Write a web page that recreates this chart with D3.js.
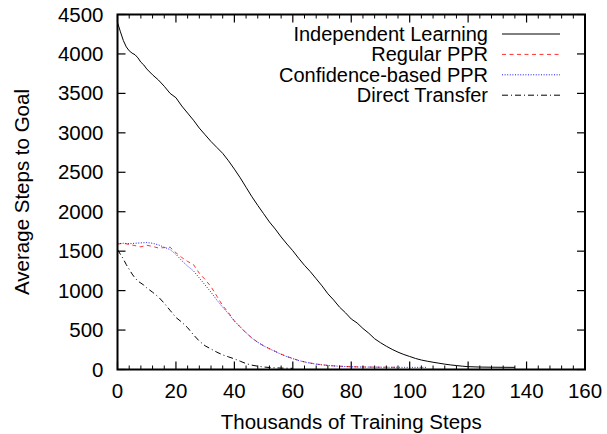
<!DOCTYPE html>
<html><head><meta charset="utf-8">
<script src="https://cdn.jsdelivr.net/npm/d3@7"></script>
<style>body{margin:0;background:#fff}svg{display:block}text{font-family:"Liberation Sans",Arial,sans-serif;fill:#000}</style>
</head><body><svg id="c" width="607" height="434"></svg>
<script>
const seriesNames = ["Independent Learning","Regular PPR","Confidence-based PPR","Direct Transfer"];
const indepX = [0,1,2,3,4,5,6,7,8,9,10,12,14,16,18,20,22,24,26,28,30,32,34,36,38,40,42,44,46,48,50,52,54,56,58,60,62,64,66,68,70,72,74,76,78,80,82,84,86,88,90,92,94,96,98,100,102,104,106,108,110,112,114,116,118,120,124,128,132,136];
const indepY = [4400,4280,4170,4090,4040,4010,3990,3950,3895,3860,3810,3735,3670,3590,3500,3445,3340,3250,3160,3060,2975,2890,2815,2740,2645,2540,2430,2310,2190,2080,1975,1870,1780,1680,1590,1505,1410,1320,1240,1150,1060,960,880,790,720,640,590,520,460,390,340,295,255,220,190,165,140,120,105,92,80,68,58,50,42,36,31,29,28,27];
const regX = [0,2,4,6,8,10,12,14,16,18,20,22,24,26,28,30,32,34,36,38,40,42,44,46,48,50,52,54,56,58,60,62,64,66,68,70,72,74,76,78,80,84,88,92,95];
const regY = [1590,1600,1585,1570,1555,1575,1560,1540,1545,1550,1480,1420,1370,1330,1220,1140,1050,930,810,720,615,540,465,400,345,300,265,230,195,165,140,115,97,82,70,60,52,46,42,38,35,32,30,29,28];
const confX = [0,2,4,6,8,10,12,14,16,18,20,22,24,26,28,30,32,34,36,38,40,42,44,46,48,50,52,54,56,58,60,62,64,66,68,70,72,74,76,78,80,84,88,92,96,100,104,106];
const confY = [1595,1600,1595,1600,1605,1610,1600,1580,1550,1520,1460,1380,1310,1250,1160,1070,980,880,790,705,615,540,465,398,345,300,262,228,192,163,138,113,96,80,68,59,51,45,41,37,34,31,30,28,28,27,27,27];
const directX = [0,1,2,3,4,5,6,7,8,9,10,12,14,16,18,20,22,24,26,28,30,32,34,36,38,40,42,44,46,48,50,52,56,60];
const directY = [1520,1460,1400,1330,1270,1210,1160,1120,1095,1070,1035,980,920,840,750,660,600,530,440,360,300,260,220,185,160,135,105,75,55,42,32,25,18,15];
const xTicks = [0,20,40,60,80,100,120,140,160];
const yTicks = [0,500,1000,1500,2000,2500,3000,3500,4000,4500];

const svg = d3.select("#c");
const L=117.5, R=585, T=14.5, B=369.5;
const FS = 20.5;
const x = d3.scaleLinear().domain([0,160]).range([L,R]);
const y = d3.scaleLinear().domain([0,4500]).range([B,T]);

const styles = [
  {color:"#000", dash:null, w:1},
  {color:"#ff3030", dash:"4,3.5", w:1},
  {color:"#1a1aff", dash:"1,1.6", w:1},
  {color:"#000", dash:"6,3,1,3", w:1}
];
const data = [[indepX,indepY],[regX,regY],[confX,confY],[directX,directY]];
const line = d3.line().x(d=>x(d[0])).y(d=>y(d[1]));

const g = svg.append("g");
data.forEach((s,i)=>{
  const pts = s[0].map((v,j)=>[v,s[1][j]]);
  g.append("path").attr("d",line(pts)).attr("fill","none")
   .attr("stroke",styles[i].color).attr("stroke-width",styles[i].w)
   .attr("stroke-dasharray",styles[i].dash);
});

// ticks
const minor = d3.range(0,161,4).filter(v=>v%20!==0);
const ax = svg.append("g").attr("stroke","#000");
minor.forEach(v=>{
  ax.append("line").attr("x1",x(v)).attr("x2",x(v)).attr("y1",B).attr("y2",B-4).attr("stroke-width",1);
  ax.append("line").attr("x1",x(v)).attr("x2",x(v)).attr("y1",T).attr("y2",T+4).attr("stroke-width",1);
});
xTicks.forEach(v=>{
  ax.append("line").attr("x1",x(v)).attr("x2",x(v)).attr("y1",B).attr("y2",B-8).attr("stroke-width",1.2);
  ax.append("line").attr("x1",x(v)).attr("x2",x(v)).attr("y1",T).attr("y2",T+8).attr("stroke-width",1.2);
});
yTicks.forEach(v=>{
  ax.append("line").attr("x1",L).attr("x2",L+8).attr("y1",y(v)).attr("y2",y(v)).attr("stroke-width",1.2);
  ax.append("line").attr("x1",R).attr("x2",R-8).attr("y1",y(v)).attr("y2",y(v)).attr("stroke-width",1.2);
});
svg.append("rect").attr("x",L).attr("y",T).attr("width",R-L).attr("height",B-T)
  .attr("fill","none").attr("stroke","#000").attr("stroke-width",2);

// tick labels
svg.append("g").selectAll("text").data(xTicks).join("text")
  .attr("x",d=>x(d)).attr("y",398).attr("text-anchor","middle").attr("font-size",FS).text(d=>d);
svg.append("g").selectAll("text").data(yTicks).join("text")
  .attr("x",103.5).attr("y",d=>y(d)+7).attr("text-anchor","end").attr("font-size",FS).text(d=>d);

svg.append("text").attr("x",(L+R)/2).attr("y",429).attr("text-anchor","middle").attr("font-size",FS)
  .text("Thousands of Training Steps");
svg.append("text").attr("transform",`translate(29,${(T+B)/2}) rotate(-90)`).attr("text-anchor","middle").attr("font-size",FS)
  .text("Average Steps to Goal");

// legend
const leg = svg.append("g");
seriesNames.forEach((n,i)=>{
  const cy = 34 + i*20.4;
  leg.append("text").attr("x",488).attr("y",cy+7).attr("text-anchor","end").attr("font-size",20).text(n);
  leg.append("line").attr("x1",502).attr("x2",560).attr("y1",cy).attr("y2",cy)
    .attr("stroke",styles[i].color).attr("stroke-width",styles[i].w).attr("stroke-dasharray",styles[i].dash);
});
</script></body></html>
